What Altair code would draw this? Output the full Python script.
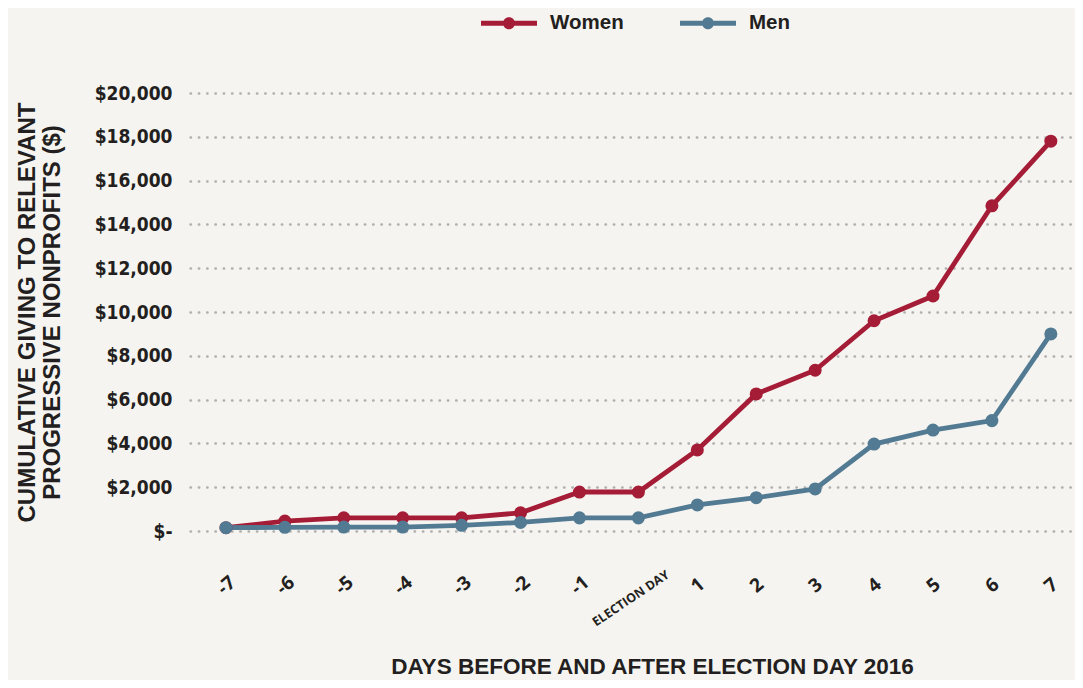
import altair as alt
import pandas as pd

days = list(range(-7, 8))
women = [150, 450, 600, 600, 600, 830, 1780, 1780, 3700, 6260, 7340, 9600, 10730, 14850, 17800]
men = [150, 170, 180, 180, 260, 390, 600, 600, 1190, 1520, 1920, 3970, 4610, 5040, 9000]
series = ["Women", "Men"]
colors = ["#a51c36", "#527b93"]
y_ticks = list(range(0, 20001, 2000))

rows = []
for name, vals in zip(series, [women, men]):
    for d, v in zip(days, vals):
        rows.append({"day": d, "series": name, "value": v})
df = pd.DataFrame(rows)

TXT = "#231f20"
SYM = ("M-1,-0.09 L-0.19,-0.09 L-0.19,0.09 L-1,0.09 Z "
       "M0.19,-0.09 L1,-0.09 L1,0.09 L0.19,0.09 Z "
       "M-0.215,0 A0.215,0.215 0 1,1 0.215,0 A0.215,0.215 0 1,1 -0.215,0 Z")

legend = alt.Legend(
    title=None, orient="none", legendX=291, legendY=-98, direction="horizontal",
    symbolType=SYM, symbolSize=3136, symbolStrokeWidth=0, symbolOpacity=1,
    labelFont="Liberation Sans", labelFontSize=20.5, labelFontWeight="bold",
    labelColor=TXT, labelOffset=13, columnPadding=56, padding=0,
)

x_axis = alt.Axis(
    values=days,
    labelExpr="datum.value == 0 ? 'ELECTION DAY' : '' + datum.value",
    labelAngle=alt.ExprRef("datum.value == 0 ? -34 : -40"),
    labelAlign="center", labelBaseline="middle",
    labelPadding={"condition": {"test": "datum.value == 0", "value": 67}, "value": 54},
    labelOffset={"condition": {"test": "datum.value == 0", "value": -8}, "value": 0},
    labelFontSize={"condition": {"test": "datum.value == 0", "value": 12.5}, "value": 19},
    labelFont="Open Sans",
    labelFontWeight="bold", labelColor=TXT, labelFlush=False,
    labelOverlap=False, labelBound=False,
    ticks=False, tickSize=0, domain=False, grid=False,
    title="DAYS BEFORE AND AFTER ELECTION DAY 2016",
    titleFont="Liberation Sans", titleFontSize=22.5, titleFontWeight="bold",
    titleColor=TXT, titleX=462, titleY=142, titleAlign="center",
    titleBaseline="alphabetic",
)

y_axis = alt.Axis(
    values=y_ticks,
    labelExpr="datum.value == 0 ? '$-' : '$' + format(datum.value, ',')",
    labelFont="DejaVu Sans Condensed, sans-serif",
    labelFontSize=19, labelFontWeight="bold", labelColor=TXT,
    labelPadding=18, labelFlush=False, labelOverlap=False,
    ticks=False, tickSize=0, domain=False,
    grid=True, gridColor="#b0b0b0", gridDash=[0.5, 7.8], gridWidth=2.4, gridCap="round",
    title=["CUMULATIVE GIVING  TO RELEVANT", "PROGRESSIVE NONPROFITS ($)"],
    titleFont="Liberation Sans", titleFontSize=24, titleFontWeight="bold",
    titleColor=TXT, titleAngle=-90, titleX=-163, titleY=219,
    titleAlign="center", titleBaseline="middle", titleLineHeight=25,
)

xenc = alt.X("day:Q", scale=alt.Scale(domain=[-7.61, 7.41], nice=False, zero=False), axis=x_axis)
yenc = alt.Y("value:Q", scale=alt.Scale(domain=[0, 20000], nice=False), axis=y_axis)
cscale = alt.Scale(domain=series, range=colors)

line = alt.Chart(df).mark_line(strokeWidth=4.8).encode(
    x=xenc, y=yenc,
    color=alt.Color("series:N", scale=cscale, legend=legend),
)
pts = alt.Chart(df).mark_circle(size=170, opacity=1).encode(
    x=xenc, y=yenc,
    color=alt.Color("series:N", scale=cscale, legend=legend),
)

chart = alt.layer(line, pts).properties(
    width=885, height=438,
    padding={"left": 182, "top": 85, "right": 0, "bottom": 149},
    autosize=alt.AutoSizeParams(type="none"),
    background="#f6f4f0",
).configure_view(stroke=None).configure_legend(symbolFillColor="#527b93")

chart.save("out.html", embed_options={"renderer": "svg", "actions": False})
